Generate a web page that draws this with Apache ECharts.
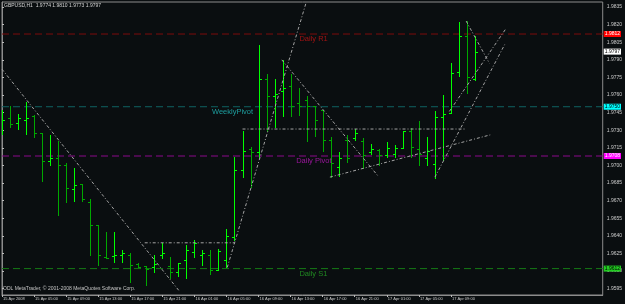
<!DOCTYPE html>
<html>
<head>
<meta charset="utf-8">
<script src="https://cdn.jsdelivr.net/npm/echarts@6/dist/echarts.min.js"></script>
<style>
  html, body { margin: 0; padding: 0; background: #0a0e10; }
  #chart { width: 625px; height: 304px; }
</style>
</head>
<body>
<div id="chart"></div>
<script>
// GBPUSD H1, 15 Apr 01:00 .. 17 Apr 12:00
var barOpen  = [1.9732,1.9740,1.9736,1.9739,1.9742,1.9728,1.9704,1.9706,1.9700,1.9680,
                1.9684,1.9669,1.9649,1.9622,1.9623,1.9624,1.9624,1.9616,1.9614,1.9613,
                1.9624,1.9614,1.9609,1.9619,1.9626,1.9624,1.9624,1.9611,1.9619,1.9639,
                1.9696,1.9714,1.9711,1.9774,1.9759,1.9763,1.9768,1.9753,1.9756,1.9751,
                1.9747,1.9722,1.9699,1.9722,1.9723,1.9721,1.9711,1.9713,1.9709,1.9710,
                1.9715,1.9729,1.9714,1.9706,1.9701,1.9741,1.9745,1.9780,1.9810,1.9774];
var barHigh  = [1.9747,1.9751,1.9744,1.9754,1.9743,1.9728,1.9726,1.9721,1.9702,1.9698,
                1.9684,1.9671,1.9649,1.9643,1.9643,1.9628,1.9625,1.9617,1.9614,1.9624,
                1.9634,1.9622,1.9617,1.9632,1.9636,1.9628,1.9628,1.9629,1.9646,1.9707,
                1.9729,1.9716,1.9803,1.9778,1.9774,1.9790,1.9778,1.9766,1.9759,1.9751,
                1.9747,1.9724,1.9711,1.9726,1.9731,1.9723,1.9718,1.9714,1.9720,1.9717,
                1.9729,1.9732,1.9738,1.9724,1.9746,1.9760,1.9787,1.9822,1.9823,1.9810];
var barLow   = [1.9727,1.9733,1.9731,1.9727,1.9724,1.9687,1.9700,1.9658,1.9669,1.9670,
                1.9670,1.9624,1.9615,1.9621,1.9618,1.9618,1.9601,1.9613,1.9598,1.9609,
                1.9621,1.9604,1.9606,1.9604,1.9622,1.9615,1.9607,1.9611,1.9613,1.9636,
                1.9690,1.9682,1.9706,1.9729,1.9733,1.9742,1.9742,1.9743,1.9721,1.9725,
                1.9712,1.9690,1.9691,1.9703,1.9722,1.9698,1.9710,1.9700,1.9707,1.9707,
                1.9715,1.9707,1.9700,1.9700,1.9689,1.9705,1.9745,1.9776,1.9762,1.9773];
var barClose = [1.9739,1.9735,1.9740,1.9740,1.9728,1.9704,1.9706,1.9700,1.9681,1.9683,
                1.9671,1.9649,1.9624,1.9621,1.9624,1.9625,1.9615,1.9613,1.9612,1.9616,
                1.9625,1.9609,1.9617,1.9628,1.9634,1.9625,1.9611,1.9627,1.9640,1.9696,
                1.9712,1.9711,1.9774,1.9759,1.9761,1.9766,1.9751,1.9751,1.9751,1.9739,
                1.9722,1.9702,1.9706,1.9706,1.9728,1.9709,1.9714,1.9709,1.9715,1.9715,
                1.9729,1.9716,1.9710,1.9712,1.9741,1.9744,1.9779,1.9810,1.9775,1.9797];

var timeLabels = ['15 Apr 2008','15 Apr 05:00','15 Apr 09:00','15 Apr 13:00','15 Apr 17:00',
                  '15 Apr 21:00','16 Apr 01:00','16 Apr 05:00','16 Apr 09:00','16 Apr 13:00',
                  '16 Apr 17:00','16 Apr 21:00','17 Apr 01:00','17 Apr 05:00','17 Apr 09:00'];
var timeLabelBars = [0,4,8,12,16,20,24,28,32,36,40,44,48,52,56];
var priceTicks = [1.9595,1.9610,1.9625,1.9640,1.9655,1.9670,1.9685,1.9700,1.9715,
                  1.9730,1.9745,1.9760,1.9775,1.9790,1.9805,1.9820,1.9835];

// pivot levels
var pivotNames  = ['Daily R1','WeeklyPivot','Daily Pivot','Daily S1'];
var pivotValues = [1.9812, 1.9750, 1.9708, 1.9612];
var pivotTextAt = [37.1, 26.2, 36.7, 37.1];
var pivotLine   = ['#7c0c0c','#0f6262','#8a088a','#167a16'];
var pivotText   = ['#c81414','#22c0c0','#c018c0','#26a626'];
var pivotBox    = ['#ff0000','#00ffff','#ff00ff','#22cc22'];
var pivotBoxTxt = ['#ffffff','#000000','#ffffff','#000000'];
var bidPrice = 1.9797;

// hand drawn trendlines [bar, price] pairs
var trendLines = [
  [[0.0, 1.9782], [22.1, 1.9593]],
  [[17.8, 1.9634], [29.0, 1.9634]],
  [[28.1, 1.9613], [37.9, 1.9838]],
  [[30.0, 1.9731], [57.8, 1.9731]],
  [[34.9, 1.9790], [46.9, 1.9691]],
  [[40.9, 1.9690], [60.9, 1.9726]],
  [[57.9, 1.9823], [60.8, 1.9787]],
  [[55.8, 1.9746], [62.8, 1.9816]],
  [[54.0, 1.9690], [62.7, 1.9803]]
];

var bullColor = '#00ff00';
var bearColor = '#00a800';
var fontFam = 'Liberation Sans, Arial, sans-serif';
var xMin = 0, xMax = 74.93;

var ohlc = barOpen.map(function (o, i) {
  return [i, o, barHigh[i], barLow[i], barClose[i]];
});

// OHLC bar: 1px stem, open tick to the left, close tick to the right
function renderBar(params, api) {
  var x = api.value(0);
  var o = api.coord([x, api.value(1)]);
  var h = api.coord([x, api.value(2)]);
  var l = api.coord([x, api.value(3)]);
  var c = api.coord([x, api.value(4)]);
  var px = Math.round(o[0]);
  var top = Math.round(h[1]);
  var bot = Math.round(l[1]);
  var col = api.value(4) >= api.value(1) ? bullColor : bearColor;
  return {
    type: 'group',
    children: [
      { type: 'rect', shape: { x: px, y: top, width: 1, height: Math.max(1, bot - top + 1) }, style: { fill: col } },
      { type: 'rect', shape: { x: px - 2, y: Math.round(o[1]), width: 2, height: 1 }, style: { fill: col } },
      { type: 'rect', shape: { x: px + 1, y: Math.round(c[1]), width: 2, height: 1 }, style: { fill: col } }
    ]
  };
}

var series = [];

pivotValues.forEach(function (v, k) {
  series.push({
    type: 'line',
    data: [[xMin, v], [xMax, v]],
    showSymbol: false,
    silent: true,
    z: 1,
    lineStyle: { color: pivotLine[k], width: 1, type: [7, 4] },
    endLabel: {
      show: true,
      formatter: function () { return v.toFixed(4); },
      distance: 1,
      fontSize: 5,
      fontFamily: fontFam,
      color: pivotBoxTxt[k],
      backgroundColor: pivotBox[k],
      padding: [1, 1, 0, 1]
    }
  });
  series.push({
    type: 'scatter',
    data: [[pivotTextAt[k], v]],
    symbolSize: 0.1,
    silent: true,
    itemStyle: { color: 'transparent' },
    label: {
      show: true,
      position: [0, 1],
      align: 'left',
      verticalAlign: 'top',
      formatter: pivotNames[k],
      fontSize: 7.5,
      fontFamily: fontFam,
      color: pivotText[k]
    }
  });
});

// bid price box, no line
series.push({
  type: 'line',
  data: [[xMin, bidPrice], [xMax, bidPrice]],
  showSymbol: false,
  silent: true,
  lineStyle: { opacity: 0 },
  endLabel: {
    show: true,
    formatter: function () { return bidPrice.toFixed(4); },
    distance: 1,
    fontSize: 5,
    fontFamily: fontFam,
    color: '#000000',
    backgroundColor: '#ffffff',
    padding: [1, 1, 0, 1]
  }
});

trendLines.forEach(function (seg) {
  series.push({
    type: 'line',
    data: seg,
    showSymbol: false,
    silent: true,
    z: 3,
    lineStyle: { color: '#a4a4a4', width: 1, type: [3, 2, 1, 2] }
  });
});

series.push({
  type: 'custom',
  name: 'GBPUSD',
  data: ohlc,
  clip: true,
  z: 2,
  encode: { x: 0, y: [1, 2, 3, 4] },
  renderItem: renderBar
});

var chart = echarts.init(document.getElementById('chart'));
chart.setOption({
  animation: false,
  backgroundColor: '#0a0e10',
  grid: {
    left: 1.3, right: 19, top: 2, bottom: 9,
    show: true, borderColor: '#8c8c8c', borderWidth: 1
  },
  xAxis: {
    type: 'value',
    min: xMin,
    max: xMax,
    axisLine: { show: true, lineStyle: { color: '#8c8c8c' } },
    splitLine: { show: false },
    axisTick: { show: true, customValues: timeLabelBars, length: 2, lineStyle: { color: '#bbbbbb' } },
    axisLabel: {
      customValues: timeLabelBars,
      formatter: function (v) { return timeLabels[timeLabelBars.indexOf(Math.round(v))] || ''; },
      align: 'left',
      margin: 2,
      fontSize: 4,
      fontFamily: fontFam,
      color: '#cccccc',
      padding: [0, 0, 0, 1],
      showMinLabel: true
    }
  },
  yAxis: {
    type: 'value',
    position: 'right',
    min: 1.95895,
    max: 1.98393,
    scale: true,
    axisLine: { show: true, lineStyle: { color: '#8c8c8c' } },
    splitLine: { show: false },
    axisTick: { show: true, customValues: priceTicks, length: 2, lineStyle: { color: '#bbbbbb' } },
    axisLabel: {
      customValues: priceTicks,
      formatter: function (v) { return v.toFixed(4); },
      margin: 4,
      fontSize: 5,
      fontFamily: fontFam,
      color: '#cccccc'
    }
  },
  graphic: [
    {
      type: 'text', left: 4, top: 3,
      style: {
        text: 'GBPUSD,H1  ' + [barOpen[59], barHigh[59], barLow[59], barClose[59]].map(function (v) { return v.toFixed(4); }).join(' '),
        fill: '#d4d4d4', fontSize: 5, fontFamily: fontFam
      }
    },
    {
      type: 'text', left: 3, top: 286,
      style: {
        text: 'ODL MetaTrader, \u00a9 2001-2008 MetaQuotes Software Corp.',
        fill: '#c4c4c4', fontSize: 5, fontFamily: fontFam
      }
    }
  ],
  series: series
});
</script>
</body>
</html>
